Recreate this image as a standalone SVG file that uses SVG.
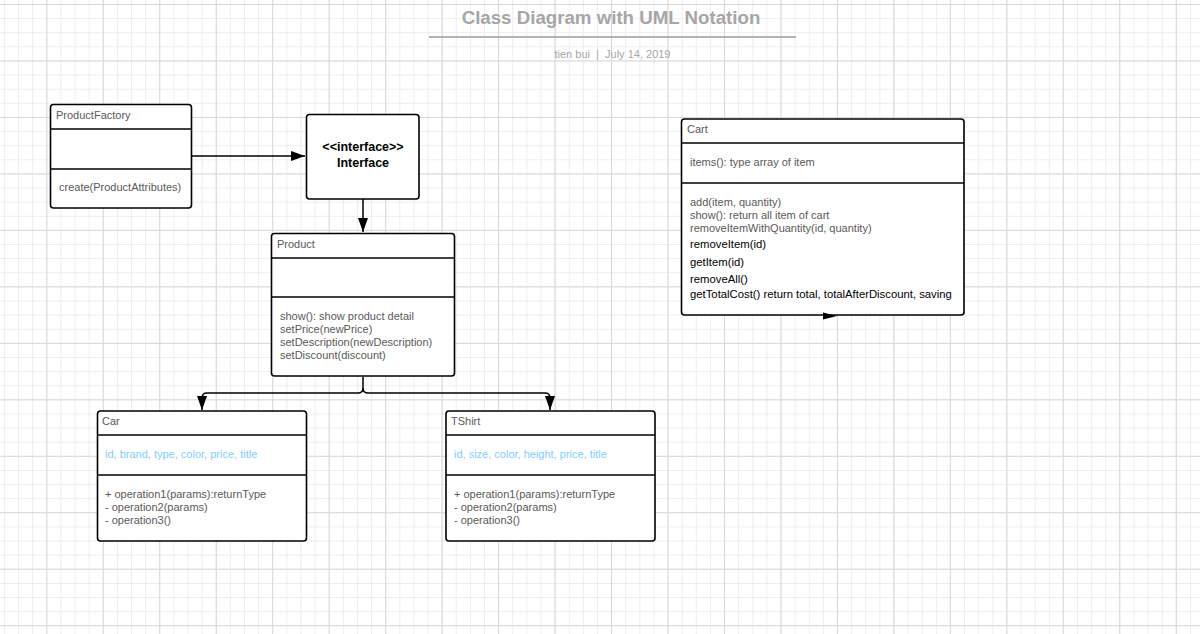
<svg xmlns="http://www.w3.org/2000/svg" width="1200" height="634" viewBox="0 0 1200 634">
<style>
.box{fill:#fff;stroke:#000;stroke-width:1.6}
.div{stroke:#000;stroke-width:1.6}
.t{font-family:"Liberation Sans",Arial,sans-serif;font-size:11px;fill:#595959}
.k{font-family:"Liberation Sans",Arial,sans-serif;font-size:11.3px;fill:#000}
.a{font-family:"Liberation Sans",Arial,sans-serif;font-size:11px;fill:#7fcfff}
.b{font-family:"Liberation Sans",Arial,sans-serif;font-size:12.5px;font-weight:bold;fill:#000}
.c{fill:none;stroke:#000;stroke-width:1.5}
</style>
<defs>
<pattern id="minor" patternUnits="userSpaceOnUse" x="46.3" y="4" width="14.12" height="14.12">
<path d="M0 0.5H14.12M0.5 0V14.12" fill="none" stroke="#ededed" stroke-width="1"/>
</pattern>
<pattern id="major" patternUnits="userSpaceOnUse" x="46.3" y="4" width="56.47" height="56.47">
<path d="M0 0.5H56.47M0.5 0V56.47" fill="none" stroke="#d8d8d8" stroke-width="1"/>
</pattern>
<marker id="arr" viewBox="0 0 14 10" refX="14" refY="5" markerWidth="14" markerHeight="10" markerUnits="userSpaceOnUse" orient="auto">
<path d="M0 0L14 5L0 10z" fill="#000"/>
</marker>
</defs>
<rect width="1200" height="634" fill="#fff"/>
<rect width="1200" height="634" fill="url(#minor)"/>
<rect width="1200" height="634" fill="url(#major)"/>

<g id="title">
<text x="611" y="24" text-anchor="middle" style="font-family:'Liberation Sans',Arial,sans-serif;font-size:18.7px;font-weight:bold;fill:#a6a6a6">Class Diagram with UML Notation</text>
<line x1="429" y1="37" x2="796" y2="37" stroke="#b3b3b3" stroke-width="2"/>
<text x="612.5" y="58" text-anchor="middle" style="font-family:'Liberation Sans',Arial,sans-serif;font-size:11px;fill:#a6a6a6">tien bui&#160; |&#160; July 14, 2019</text>
</g>

<g id="productfactory">
<rect class="box" x="50.5" y="104.5" width="141" height="103.5" rx="3"/>
<line class="div" x1="50.5" y1="129" x2="191.5" y2="129"/>
<line class="div" x1="50.5" y1="169" x2="191.5" y2="169"/>
<text class="t" x="56" y="119">ProductFactory</text>
<text class="t" x="59" y="191">create(ProductAttributes)</text>
</g>

<g id="interface">
<rect class="box" x="306.5" y="114.5" width="112.5" height="84.5" rx="3"/>
<text class="b" x="363" y="151" text-anchor="middle">&lt;&lt;interface&gt;&gt;</text>
<text class="b" x="363" y="167" text-anchor="middle">Interface</text>
</g>

<g id="product">
<rect class="box" x="271.5" y="233.5" width="183" height="142.5" rx="3"/>
<line class="div" x1="271.5" y1="258" x2="454.5" y2="258"/>
<line class="div" x1="271.5" y1="297" x2="454.5" y2="297"/>
<text class="t" x="277" y="248">Product</text>
<text class="t" x="280" y="320">show(): show product detail</text>
<text class="t" x="280" y="333">setPrice(newPrice)</text>
<text class="t" x="280" y="346">setDescription(newDescription)</text>
<text class="t" x="280" y="359">setDiscount(discount)</text>
</g>

<g id="car">
<rect class="box" x="97.5" y="411" width="209" height="130" rx="3"/>
<line class="div" x1="97.5" y1="435" x2="306.5" y2="435"/>
<line class="div" x1="97.5" y1="475" x2="306.5" y2="475"/>
<text class="t" x="102" y="425">Car</text>
<text class="a" x="105" y="458">id, brand, type, color, price, title</text>
<text class="t" x="105" y="498">+ operation1(params):returnType</text>
<text class="t" x="105" y="511">- operation2(params)</text>
<text class="t" x="105" y="524">- operation3()</text>
</g>

<g id="tshirt">
<rect class="box" x="446" y="411" width="209" height="130" rx="3"/>
<line class="div" x1="446" y1="435" x2="655" y2="435"/>
<line class="div" x1="446" y1="475" x2="655" y2="475"/>
<text class="t" x="451" y="425">TShirt</text>
<text class="a" x="454" y="458">id, size, color, height, price, title</text>
<text class="t" x="454" y="498">+ operation1(params):returnType</text>
<text class="t" x="454" y="511">- operation2(params)</text>
<text class="t" x="454" y="524">- operation3()</text>
</g>

<g id="cart">
<rect class="box" x="681.5" y="119" width="282.5" height="196" rx="3"/>
<line class="div" x1="681.5" y1="143" x2="964" y2="143"/>
<line class="div" x1="681.5" y1="183" x2="964" y2="183"/>
<text class="t" x="687" y="133">Cart</text>
<text class="t" x="690" y="166">items(): type array of item</text>
<text class="t" x="690" y="206">add(item, quantity)</text>
<text class="t" x="690" y="219">show(): return all item of cart</text>
<text class="t" x="690" y="232">removeItemWithQuantity(id, quantity)</text>
<text class="k" x="690" y="248">removeItem(id)</text>
<text class="k" x="690" y="266">getItem(id)</text>
<text class="k" x="690" y="283">removeAll()</text>
<text class="k" x="690" y="298">getTotalCost() return total, totalAfterDiscount, saving</text>
</g>

<g id="connectors">
<line class="c" x1="192" y1="156" x2="305" y2="156" marker-end="url(#arr)"/>
<line class="c" x1="363" y1="199" x2="363" y2="232" marker-end="url(#arr)"/>
<path class="c" d="M363 377V388Q363 393 358 393H207Q202 393 202 398V410" marker-end="url(#arr)"/>
<path class="c" d="M363 388Q363 393 368 393H545Q550 393 550 398V410" marker-end="url(#arr)"/>
<path d="M823 312.5L837 316L823 319.5z" fill="#000"/>
</g>
</svg>
